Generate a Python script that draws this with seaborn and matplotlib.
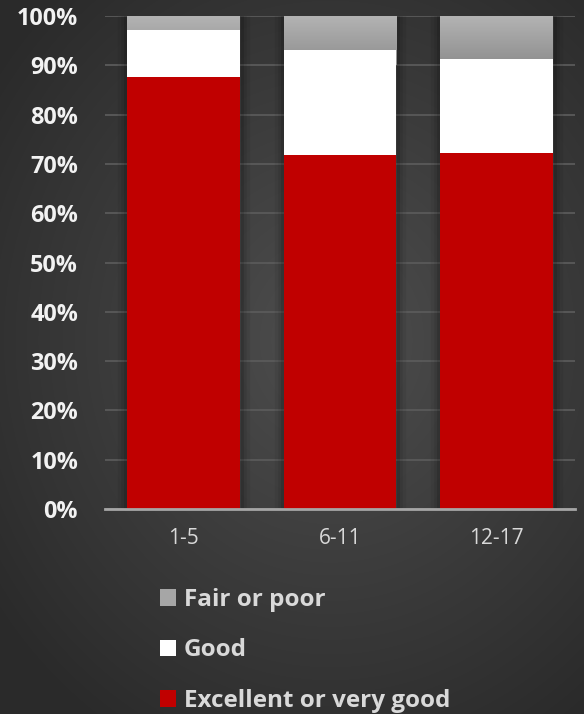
import numpy as np
import pandas as pd
import matplotlib
matplotlib.use("Agg")
import matplotlib.pyplot as plt
import matplotlib.patheffects as pe
from matplotlib.patches import Patch
from matplotlib.colors import LinearSegmentedColormap
import seaborn as sns

# ---- data ----
groups = ["1-5", "6-11", "12-17"]
excellent = [87.6, 71.8, 72.2]
good = [9.6, 21.3, 19.1]
fair = [2.8, 6.9, 8.7]
series_labels = ["Excellent or very good", "Good", "Fair or poor"]
yticks = [0, 10, 20, 30, 40, 50, 60, 70, 80, 90, 100]
ytick_labels = [f"{v}%" for v in yticks]

df = pd.DataFrame({"group": groups, "excellent": excellent, "good": good, "fair": fair})
df["good_top"] = df["excellent"] + df["good"]
df["fair_top"] = df["good_top"] + df["fair"]

sns.set_theme(style="dark")
plt.rcParams["font.family"] = ["Open Sans", "DejaVu Sans"]

W, H = 584, 714
fig = plt.figure(figsize=(W / 100, H / 100), dpi=100)

# radial gradient background
bg = fig.add_axes([0, 0, 1, 1])
bg.set_axis_off()
yy, xx = np.mgrid[0:H, 0:W]
r = np.hypot((xx - 330) / 420.0, (yy - 340) / 470.0)
r = np.clip(r, 0, 1)
bg_cmap = LinearSegmentedColormap.from_list("bg", ["#4e4e4e", "#3c3c3c", "#2a2a2a"])
bg.imshow(r, cmap=bg_cmap, vmin=0, vmax=1, aspect="auto", extent=[0, 1, 0, 1])
bg.set_xlim(0, 1)
bg.set_ylim(0, 1)

ax = fig.add_axes([105 / W, 1 - 509 / H, 470 / W, 493 / H])
ax.set_facecolor("none")

bw = 0.72
shadow = [pe.Stroke(linewidth=14, foreground="black", alpha=0.06),
          pe.Stroke(linewidth=9, foreground="black", alpha=0.08),
          pe.Stroke(linewidth=5, foreground="black", alpha=0.12),
          pe.Normal()]

sns.barplot(data=df, x="group", y="fair_top", color="#a0a0a0", saturation=1,
            width=bw, ax=ax, zorder=2, linewidth=0, edgecolor="none")
fair_patches = list(ax.patches)
sns.barplot(data=df, x="group", y="good_top", color="#ffffff", saturation=1,
            width=bw, ax=ax, zorder=3, linewidth=0, edgecolor="none")
sns.barplot(data=df, x="group", y="excellent", color="#c00000", saturation=1,
            width=bw, ax=ax, zorder=4, linewidth=0, edgecolor="none")

grad_cmap = LinearSegmentedColormap.from_list("fair", ["#8e8e8e", "#b4b4b4"])
grad = np.linspace(0, 1, 256).reshape(-1, 1)
for p in fair_patches:
    p.set_path_effects(shadow)
    x0, y0, w, h = p.get_x(), p.get_y(), p.get_width(), p.get_height()
    im = ax.imshow(grad, cmap=grad_cmap, origin="lower", aspect="auto",
                   extent=[x0, x0 + w, y0 + h - 10, y0 + h], zorder=2.5)
    im.set_clip_path(p)

ax.set_xlim(-0.5, 2.5)
ax.set_ylim(0, 100)
ax.set_yticks(yticks)
ax.set_yticklabels(ytick_labels)
ax.set_xlabel("")
ax.set_ylabel("")
ax.yaxis.grid(True, color="#5a5a5a", linewidth=1.3)
ax.xaxis.grid(False)
ax.set_axisbelow(True)
for s in ["top", "right", "left"]:
    ax.spines[s].set_visible(False)
ax.spines["bottom"].set_color("#a6a6a6")
ax.spines["bottom"].set_linewidth(2)
ax.spines["bottom"].set_zorder(6)
ax.tick_params(axis="both", length=0)
ax.tick_params(axis="y", pad=19.4)
ax.tick_params(axis="x", pad=14)
for t in ax.get_yticklabels():
    t.set_fontsize(16.8)
    t.set_fontweight("bold")
    t.set_color("#f2f2f2")
for t in ax.get_xticklabels():
    t.set_fontsize(15)
    t.set_color("#d9d9d9")

handles = [Patch(facecolor="#a6a6a6", edgecolor="none"),
           Patch(facecolor="#ffffff", edgecolor="none"),
           Patch(facecolor="#c00000", edgecolor="none")]
labels = [series_labels[2], series_labels[1], series_labels[0]]
leg = ax.legend(handles, labels, loc="upper left",
                bbox_to_anchor=(160 / W, 1 - 588 / H), bbox_transform=fig.transFigure,
                frameon=False, borderpad=0, borderaxespad=0,
                handlelength=0.66, handleheight=0.66, handletextpad=0.33,
                labelspacing=1.09, prop={"family": ["Open Sans", "DejaVu Sans"],
                                         "weight": "bold", "size": 17.5})
for t in leg.get_texts():
    t.set_color("#d9d9d9")

fig.savefig("out.png", dpi=100)
